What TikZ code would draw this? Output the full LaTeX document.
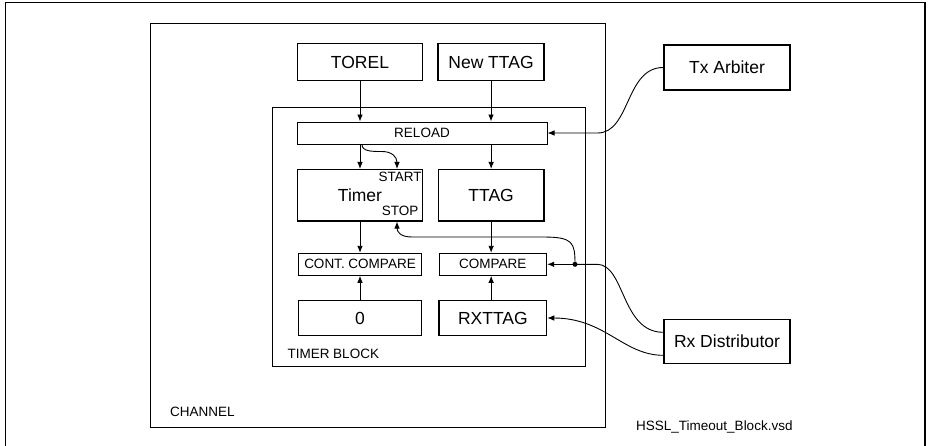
\documentclass[tikz,border=0pt]{standalone}
\usepackage{fontspec}
\setmainfont{Liberation Sans}
\usetikzlibrary{arrows.meta,calc}
\newcommand\bigtxt{\fontsize{17.5}{21}\selectfont}
\newcommand\smalltxt{\fontsize{13.5}{16}\selectfont}
\tikzset{
  box/.style={draw, line width=1.1pt, inner sep=0pt, font=\bigtxt, anchor=center},
  smallbox/.style={draw, line width=1pt, inner sep=0pt, font=\smalltxt, anchor=center},
  extbox/.style={draw, line width=1.6pt, inner sep=0pt, font=\bigtxt, anchor=center},
  frame/.style={draw, line width=1pt, inner sep=0pt},
  lbl/.style={inner sep=0pt, font=\smalltxt},
  arr/.style={line width=0.9pt, -{Latex[length=7pt,width=5.6pt]}},
}
\begin{document}
\begin{tikzpicture}[x=1pt,y=-1pt]
\useasboundingbox (0,0) rectangle (928,445);
% outer frame
\draw[line width=1.2pt] (5.3,446) -- (5.3,2.7) -- (925,2.7) -- (925,446);
% channel and timer block
\node[frame, minimum width=455pt, minimum height=404.5pt] (channel) at (378,225.25) {};
\node[lbl, anchor=base west] (chlbl) at (170,416.7) {CHANNEL};
\node[frame, minimum width=313pt, minimum height=259.4pt] (tblock) at (429.2,237) {};
\node[lbl, anchor=base west] (tblbl) at (287.3,358.8) {TIMER BLOCK};
% boxes
\node[box, minimum width=125pt, minimum height=37pt] (torel) at (360,62) {TOREL};
\node[box, minimum width=106pt, minimum height=37pt] (newttag) at (491,62) {New TTAG};
\node[extbox, minimum width=126pt, minimum height=45pt] (txa) at (727,67.5) {Tx Arbiter};
\node[extbox, minimum width=126pt, minimum height=44pt] (rxd) at (727,341.3) {Rx Distributor};
\node[smallbox, minimum width=250pt, minimum height=22pt] (reload) at (422,133) {RELOAD};
\node[box, minimum width=125.4pt, minimum height=51.5pt] (timer) at (360,195.25) {Timer};
\node[box, minimum width=105.7pt, minimum height=51.5pt] (ttag) at (491.15,195.25) {TTAG};
\node[smallbox, minimum width=123.4pt, minimum height=22pt] (cc) at (360,264.3) {CONT. COMPARE};
\node[smallbox, minimum width=107.7pt, minimum height=22pt] (cmp) at (492.85,264.3) {COMPARE};
\node[box, minimum width=123.4pt, minimum height=34.6pt] (zero) at (360,318) {0};
\node[box, minimum width=107.7pt, minimum height=34.6pt] (rxttag) at (492.85,318) {RXTTAG};
\node[lbl, anchor=base east] (start) at ([xshift=-1.5pt,yshift=-12.2pt]timer.north east) {START};
\node[lbl, anchor=base east] (stop) at ([xshift=-4.7pt,yshift=6pt]timer.south east) {STOP};
\node[lbl, anchor=base west] (file) at (636,430) {HSSL\_Timeout\_Block.vsd};
% helper coordinates
\coordinate (startin) at ([xshift=37pt]timer.north);
\coordinate (stopin) at ([xshift=37pt]timer.south);
\coordinate (junc) at (575,264.3);
% vertical arrows
\draw[arr] (torel.south) -- (torel.south |- reload.north);
\draw[arr] (newttag.south) -- (newttag.south |- reload.north);
\draw[arr] (timer.north |- reload.south) -- (timer.north);
\draw[arr] (ttag.north |- reload.south) -- (ttag.north);
\draw[arr] (timer.south) -- (timer.south |- cc.north);
\draw[arr] (ttag.south) -- (ttag.south |- cmp.north);
\draw[arr] (zero.north) -- (zero.north |- cc.south);
\draw[arr] (ttag.south |- rxttag.north) -- (ttag.south |- cmp.south);
% start curve
\draw[arr] ($(reload.south -| timer.north)+(2,0)$) .. controls +(0,7) and +(-10,0) .. ($(reload.south -| timer.north)+(22,7)$) .. controls +(10,0) and +(0,-12) .. (startin);
% Tx arbiter to reload
\draw[arr] (txa.west) .. controls +(-38,0) and +(33,0) .. ($(reload.east)+(50,0)$) -- (reload.east);
% Rx distributor to compare
\draw[line width=0.9pt] ([yshift=9pt]rxd.west) .. controls +(-42,0) and +(28,0) .. ($(junc)+(22,0)$) -- (junc);
\draw[arr] (junc) -- (cmp.east);
\fill (junc) circle (2.5pt);
% junction to stop
\draw[arr] (junc) .. controls +(0,-22) and +(30,0) .. (543,237) -- (412,237) .. controls +(-12,0) and +(0,10) .. (stopin);
% Rx distributor to RXTTAG
\draw[arr] ([yshift=-14pt]rxd.west) .. controls +(-40,0) and +(58,0) .. (rxttag.east);
\end{tikzpicture}
\end{document}
